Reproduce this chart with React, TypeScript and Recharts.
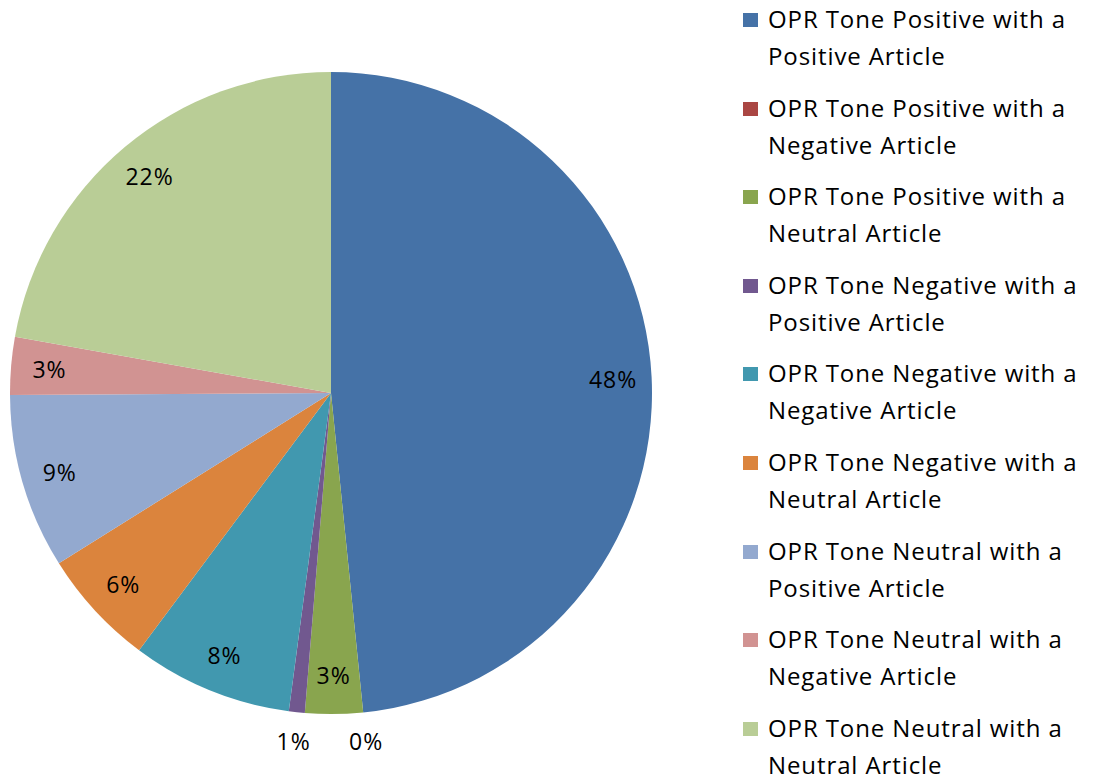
import { PieChart, Pie, Cell, Legend } from 'recharts';

const categories = [
  'OPR Tone Positive with a Positive Article',
  'OPR Tone Positive with a Negative Article',
  'OPR Tone Positive with a Neutral Article',
  'OPR Tone Negative with a Positive Article',
  'OPR Tone Negative with a Negative Article',
  'OPR Tone Negative with a Neutral Article',
  'OPR Tone Neutral with a Positive Article',
  'OPR Tone Neutral with a Negative Article',
  'OPR Tone Neutral with a Neutral Article',
];

// share of articles, percent
const shares = [48.4, 0, 2.9, 0.8, 8.1, 5.9, 8.8, 2.9, 22.2];

const COLORS = [
  '#4572A7',
  '#AA4643',
  '#89A54E',
  '#71588F',
  '#4198AF',
  '#DB843D',
  '#93A9CF',
  '#D19392',
  '#B9CD96',
];

const FONT = '"Open Sans", "Noto Sans", sans-serif';
const RAD = Math.PI / 180;

const data = categories.map((name, i) => ({ name, value: shares[i] }));

function renderLabel(props: any) {
  const { cx, cy, midAngle, outerRadius, value } = props;
  // tiny slices get their label pushed outside the pie
  const r = value < 1 ? outerRadius + 29 : outerRadius * 0.88;
  const x = cx + r * Math.cos(-midAngle * RAD);
  const y = cy + r * Math.sin(-midAngle * RAD);
  return (
    <text
      x={x}
      y={y}
      fill="#000"
      fontSize={23}
      letterSpacing={1}
      fontFamily={FONT}
      textAnchor="middle"
      dominantBaseline="central"
    >
      {`${Math.round(value)}%`}
    </text>
  );
}

function LegendBox() {
  return (
    <div style={{ position: 'relative', fontFamily: FONT, fontSize: 24, letterSpacing: 0.9, color: '#000' }}>
      {categories.map((name, i) => {
        const cut = name.indexOf(' with a ') + 7;
        return (
          <div key={name} style={{ position: 'absolute', left: 0, top: i * 88.6, paddingLeft: 25 }}>
            <div
              style={{
                position: 'absolute',
                left: 0,
                top: 13,
                width: 15,
                height: 14,
                background: COLORS[i],
              }}
            />
            <div style={{ lineHeight: '37px', whiteSpace: 'nowrap' }}>
              {name.slice(0, cut)}
              <br />
              {name.slice(cut + 1)}
            </div>
          </div>
        );
      })}
    </div>
  );
}

export default function App() {
  return (
    <div style={{ position: 'absolute', left: 0, top: 0, background: '#fff' }}>
      <PieChart width={1099} height={782} margin={{ top: 0, right: 0, bottom: 0, left: 0 }}>
        <Pie
          data={data}
          dataKey="value"
          nameKey="name"
          cx={331}
          cy={393}
          outerRadius={321}
          startAngle={90}
          endAngle={-270}
          stroke="none"
          label={renderLabel}
          labelLine={false}
          isAnimationActive={false}
        >
          {data.map((d, i) => (
            <Cell key={d.name} fill={COLORS[i]} />
          ))}
        </Pie>
        <Legend
          content={() => <LegendBox />}
          wrapperStyle={{ position: 'absolute', left: 743, top: 0, width: 356, height: 782 }}
        />
      </PieChart>
    </div>
  );
}
